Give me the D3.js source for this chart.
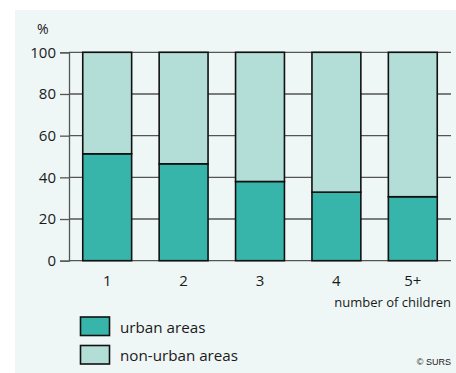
<!DOCTYPE html>
<html>
<head>
<meta charset="utf-8">
<script src="https://cdn.jsdelivr.net/npm/d3@7"></script>
<style>
  html, body { margin: 0; padding: 0; background: #ffffff; }
  svg { display: block; font-family: "Open Sans", "Noto Sans", sans-serif; }
</style>
</head>
<body>
<svg id="chart" width="456" height="373"></svg>
<script>
// Share of women by number of children, urban vs non-urban (%)
const categories = ["1", "2", "3", "4", "5+"];
const urban = [51.3, 46.5, 38.0, 32.9, 30.7];
const nonUrban = urban.map(v => 100 - v);
const yTicks = [0, 20, 40, 60, 80, 100];
const seriesNames = ["urban areas", "non-urban areas"];
const colors = ["#38b5aa", "#b3ddd7"];

const svg = d3.select("#chart");

// panel background
svg.append("rect")
  .attr("x", 15).attr("y", 10)
  .attr("width", 441).attr("height", 363)
  .attr("fill", "#eef7f6");

const x = d3.scaleBand()
  .domain(categories)
  .range([69, 451])
  .paddingInner(0.36)
  .paddingOuter(0.18);

const y = d3.scaleLinear().domain([0, 100]).range([260.7, 52.3]);

// gridlines + tick marks
const yAxis = d3.axisLeft(y)
  .tickValues(yTicks)
  .tickSize(9)
  .tickPadding(4);
const gy = svg.append("g").attr("transform", "translate(69,0)").call(yAxis);
gy.select(".domain").attr("stroke", "#555").attr("stroke-width", 1.3);
gy.selectAll(".tick line").attr("stroke", "#555").attr("stroke-width", 1.3);
gy.selectAll(".tick text")
  .attr("fill", "#1a1a1a")
  .style("font-size", "15px")
  .style("font-family", "'Open Sans', 'Noto Sans', sans-serif");

svg.append("g")
  .selectAll("line")
  .data(yTicks)
  .join("line")
  .attr("x1", 69).attr("x2", 451)
  .attr("y1", d => y(d)).attr("y2", d => y(d))
  .attr("stroke", "#555").attr("stroke-width", 1.3);

svg.append("text")
  .attr("x", 37).attr("y", 34)
  .attr("font-size", 14)
  .attr("fill", "#1a1a1a")
  .text("%");

// stacked bars
const rows = categories.map((c, i) => ({ cat: c, urban: urban[i], nonUrban: nonUrban[i] }));
const stack = d3.stack().keys(["urban", "nonUrban"])(rows);

svg.append("g")
  .selectAll("g")
  .data(stack)
  .join("g")
  .attr("fill", (d, i) => colors[i])
  .selectAll("rect")
  .data(d => d)
  .join("rect")
  .attr("x", d => x(d.data.cat))
  .attr("y", d => y(d[1]))
  .attr("width", x.bandwidth())
  .attr("height", d => y(d[0]) - y(d[1]))
  .attr("stroke", "#111")
  .attr("stroke-width", 1.6);

// x labels
svg.append("g")
  .selectAll("text")
  .data(categories)
  .join("text")
  .attr("x", d => x(d) + x.bandwidth() / 2)
  .attr("y", 286)
  .attr("text-anchor", "middle")
  .attr("font-size", 15)
  .attr("fill", "#1a1a1a")
  .text(d => d);

svg.append("text")
  .attr("x", 451).attr("y", 307)
  .attr("text-anchor", "end")
  .attr("font-size", 13)
  .attr("fill", "#1a1a1a")
  .text("number of children");

// legend
const legend = svg.append("g");
seriesNames.forEach((name, i) => {
  const ly = 317 + i * 28.5;
  legend.append("rect")
    .attr("x", 80.5).attr("y", ly)
    .attr("width", 29).attr("height", 18.5)
    .attr("fill", colors[i])
    .attr("stroke", "#111").attr("stroke-width", 1.6);
  legend.append("text")
    .attr("x", 120).attr("y", ly + 15.5)
    .attr("font-size", 15.2)
    .attr("fill", "#1a1a1a")
    .text(name);
});

svg.append("text")
  .attr("x", 451).attr("y", 365)
  .attr("text-anchor", "end")
  .attr("font-size", 9)
  .attr("font-family", "'Liberation Sans', Arial, sans-serif")
  .attr("fill", "#1a1a1a")
  .text("© SURS");
</script>
</body>
</html>
